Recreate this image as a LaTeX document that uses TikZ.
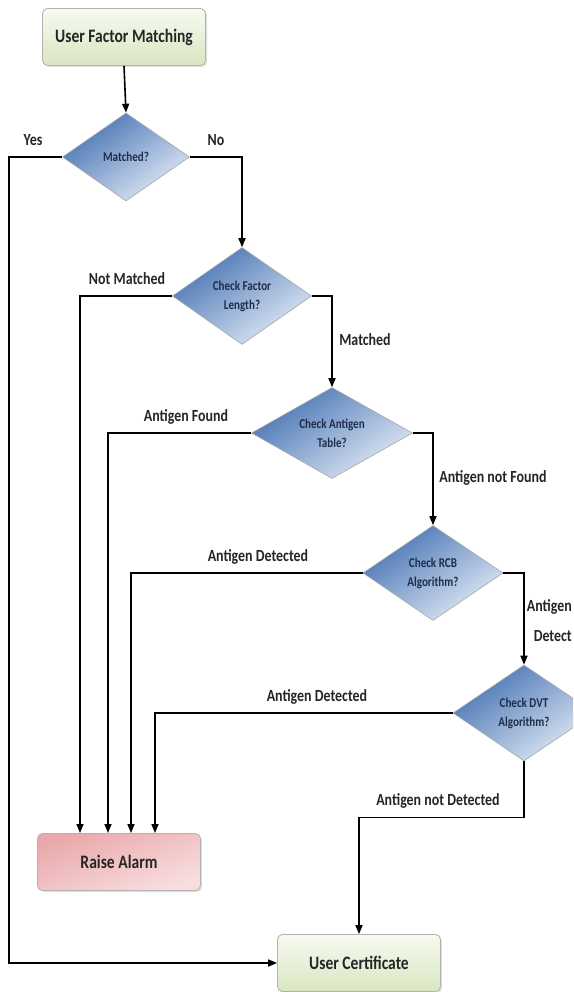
\documentclass[tikz,border=0pt]{standalone}
\usepackage{fontspec}
\setmainfont{Carlito}[FakeStretch=0.82]
\usetikzlibrary{shapes.geometric,arrows.meta,shadows}
\definecolor{gtop}{HTML}{F7FAF0}
\definecolor{gbot}{HTML}{D9E6C2}
\definecolor{ptop}{HTML}{E9A9AC}
\definecolor{pbot}{HTML}{F8DEDF}
\definecolor{btop}{HTML}{4673B3}
\definecolor{bbot}{HTML}{E2EAF5}
\definecolor{navy}{HTML}{1F2D4D}
\tikzset{
  box/.style={rectangle, rounded corners=5pt, draw=gray!60, line width=0.8pt,
    minimum width=163pt, minimum height=57pt, font=\bfseries\fontsize{19}{21}\selectfont,
    text=black!85, drop shadow={opacity=0.25, shadow xshift=1.5pt, shadow yshift=-1.5pt}},
  greenbox/.style={box, shading=axis, top color=gtop, bottom color=gbot},
  pinkbox/.style={box, shading=axis, top color=ptop, bottom color=pbot, shading angle=20},
  dia/.style={diamond, draw=gray!70, line width=0.6pt, inner sep=0pt, aspect=1.45,
    shading=axis, top color=btop, bottom color=bbot, shading angle=35,
    font=\bfseries\fontsize{13.5}{17}\selectfont, text=navy, align=center},
  lbl/.style={font=\bfseries\fontsize{17}{19}\selectfont, text=black!85, inner sep=0pt},
  conn/.style={line width=1.6pt, -{Triangle[length=9pt,width=7pt]}},
}
\begin{document}
\begin{tikzpicture}[x=1pt,y=-1pt]
\clip (0,0) rectangle (573,992);
\useasboundingbox (0,0) rectangle (573,992);
\fill[white] (0,0) rectangle (573,992);

\node[greenbox] (start) at (124,37) {User Factor Matching};
\node[dia, minimum width=127pt, minimum height=88pt] (d1) at (126,157) {Matched?};
\node[dia, minimum width=139pt, minimum height=97pt] (d2) at (242,296) {Check Factor\\[2pt]Length?};
\node[dia, minimum width=161pt, minimum height=91pt] (d3) at (332,433) {Check Antigen\\[2pt]Table?};
\node[dia, minimum width=140pt, minimum height=95pt] (d4) at (433,573) {Check RCB\\[2pt]Algorithm?};
\node[dia, minimum width=142pt, minimum height=96pt] (d5) at (524,713) {Check DVT\\[2pt]Algorithm?};
\node[pinkbox] (alarm) at (119,862) {Raise Alarm};
\node[greenbox] (cert) at (359,963) {User Certificate};

\coordinate (a1) at (80,833);
\coordinate (a2) at (108,833);
\coordinate (a3) at (131,833);
\coordinate (a4) at (155,833);

\draw[conn] (start.south) -- (d1.north);
\draw[conn] (d1.west) -- ++(-53,0) |- (cert.west);
\draw[conn] (d1.east) -| (d2.north);
\draw[conn] (d2.west) -| (a1);
\draw[conn] (d2.east) -| (d3.north);
\draw[conn] (d3.west) -| (a2);
\draw[conn] (d3.east) -| (d4.north);
\draw[conn] (d4.west) -| (a3);
\draw[conn] (d4.east) -| (d5.north);
\draw[conn] (d5.west) -| (a4);
\draw[conn] (d5.south) -- ++(0,56) -| (cert.north);

\node[lbl] (lyes) at (33,140) {Yes};
\node[lbl] (lno) at (216,140) {No};
\node[lbl] (lnm) at (127,279) {Not Matched};
\node[lbl] (lm) at (365,340) {Matched};
\node[lbl] (laf) at (186,417) {Antigen Found};
\node[lbl] (lanf) at (493,478) {Antigen not Found};
\node[lbl] (lad1) at (258,557) {Antigen Detected};
\node[lbl, anchor=east] (lant) at (572,607) {Antigen};
\node[lbl, anchor=east] (ldet) at (572,636) {Detect};
\node[lbl] (lad2) at (317,697) {Antigen Detected};
\node[lbl] (land) at (438,801) {Antigen not Detected};
\end{tikzpicture}
\end{document}
